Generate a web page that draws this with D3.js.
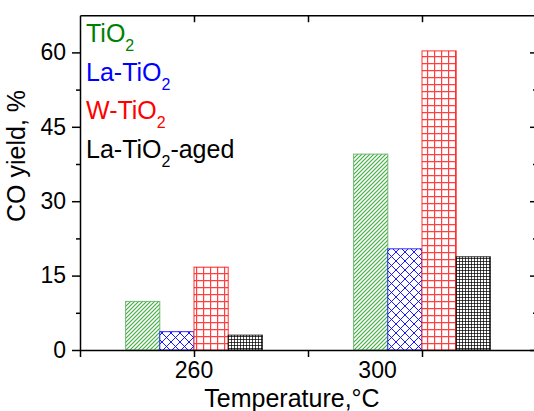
<!DOCTYPE html>
<html>
<head>
<meta charset="utf-8">
<script src="https://cdn.jsdelivr.net/npm/d3@7"></script>
<style>
  body { margin: 0; background: #fff; }
  svg { display: block; font-family: "Liberation Sans", Arial, sans-serif; }
  .axis path, .axis line { stroke: #000; stroke-width: 1.5; }
  .axis text { font-size: 23px; fill: #000; font-family: "Liberation Sans", Arial, sans-serif; }
</style>
</head>
<body>
<script>
var width = 534, height = 411;

// data
var temperatures = ["260", "300"];
var groupPos = [1, 3];                 // group centres on the x scale
var series = ["TiO2", "La-TiO2", "W-TiO2", "La-TiO2-aged"];
var tio2 = [9.8, 39.5];
var laTio2 = [3.7, 20.4];
var wTio2 = [16.7, 60.3];
var laTio2Aged = [3.0, 18.8];
var xTickLabels = ["260", "300"];
var xTickLabelPos = [1, 2.61];
var yTicks = [0, 15, 30, 45, 60];
var yMinorTicks = [7.5, 22.5, 37.5, 52.5];

var colors = ["#008000", "#0000ff", "#ff0000", "#000000"];
var values = [tio2, laTio2, wTio2, laTio2Aged];

var svg = d3.select("body").append("svg")
    .attr("width", width)
    .attr("height", height);

var x = d3.scaleLinear().domain([0, 4]).range([80, 536]);
var y = d3.scaleLinear().domain([0, 67.5]).range([350, 15.2]);
var barW = 0.3;

// patterns
var defs = svg.append("defs");
function pattern(id, size, d, color, sw, op) {
    var p = defs.append("pattern")
        .attr("id", id)
        .attr("patternUnits", "userSpaceOnUse")
        .attr("width", size)
        .attr("height", size);
    p.append("rect").attr("width", size).attr("height", size).attr("fill", "#fff");
    p.append("path").attr("d", d)
        .attr("stroke", color)
        .attr("stroke-width", sw)
        .attr("stroke-opacity", op)
        .attr("fill", "none");
}
pattern("pat0", 4, "M-1,1 L1,-1 M0,4 L4,0 M3,5 L5,3", "#22a022", 1.2, 0.85);
pattern("pat1", 9, "M0,0 L9,9 M9,0 L0,9", "#0000ff", 1, 0.9);
pattern("pat2", 7, "M0,0.5 H7 M0.5,0 V7", "#ff0000", 1.4, 0.75);
pattern("pat3", 3, "M0,0.5 H3 M0.5,0 V3", "#000000", 0.9, 0.8);

// bars
var bars = [];
values.forEach(function(vals, si) {
    vals.forEach(function(v, gi) {
        bars.push({s: si, g: gi, v: v});
    });
});

svg.selectAll(".bar")
    .data(bars)
    .enter()
    .append("rect")
    .attr("class", "bar")
    .attr("x", function(d) { return x(groupPos[d.g] + (d.s - 2) * barW); })
    .attr("y", function(d) { return y(d.v); })
    .attr("width", function(d) { return x(barW) - x(0); })
    .attr("height", function(d) { return y(0) - y(d.v); })
    .attr("fill", function(d) { return "url(#pat" + d.s + ")"; })
    .attr("stroke", function(d) { return d.s === 0 ? "#5aaa5a" : colors[d.s]; })
    .attr("stroke-opacity", 0.8)
    .attr("stroke-width", 1);

// axes
svg.append("g")
    .attr("class", "axis")
    .attr("transform", "translate(0," + y(0) + ")")
    .call(d3.axisBottom(x).tickValues([0, 1, 2, 3, 4]).tickSize(7).tickSizeOuter(0).tickFormat(""));

svg.append("g")
    .attr("class", "axis")
    .attr("transform", "translate(0," + y(0) + ")")
    .selectAll("text")
    .data(xTickLabels)
    .enter()
    .append("text")
    .attr("x", function(d, i) { return x(xTickLabelPos[i]); })
    .attr("y", 28)
    .attr("text-anchor", "middle")
    .text(function(d) { return d; });

svg.append("g")
    .attr("class", "axis")
    .attr("transform", "translate(0," + y(67.5) + ")")
    .call(d3.axisTop(x).tickValues([1, 2, 3]).tickSize(-7).tickSizeOuter(0).tickFormat(""));

svg.append("g")
    .attr("class", "axis")
    .attr("transform", "translate(" + x(0) + ",0)")
    .call(d3.axisLeft(y).tickValues(yTicks).tickSize(8).tickPadding(6).tickSizeOuter(0));

svg.append("g")
    .attr("class", "axis")
    .attr("transform", "translate(" + x(0) + ",0)")
    .call(d3.axisLeft(y).tickValues(yMinorTicks).tickSize(4).tickSizeOuter(0).tickFormat(""))
    .select(".domain").remove();

svg.append("g")
    .attr("class", "axis")
    .attr("transform", "translate(" + x(4) + ",0)")
    .call(d3.axisRight(y).tickValues(yTicks).tickSize(-6).tickSizeOuter(0).tickFormat(""));

svg.append("g")
    .attr("class", "axis")
    .attr("transform", "translate(" + x(4) + ",0)")
    .call(d3.axisRight(y).tickValues(yMinorTicks).tickSize(-3).tickSizeOuter(0).tickFormat(""))
    .select(".domain").remove();

// axis titles
svg.append("text")
    .attr("x", 292)
    .attr("y", 407)
    .attr("text-anchor", "middle")
    .style("font-size", "25px")
    .text("Temperature,\u00b0C");

svg.append("text")
    .attr("transform", "translate(25,156) rotate(-90)")
    .attr("text-anchor", "middle")
    .style("font-size", "25px")
    .text("CO yield, %");

// legend
var legend = svg.selectAll(".legend")
    .data(series)
    .enter()
    .append("text")
    .attr("class", "legend")
    .attr("x", 86)
    .attr("y", function(d, i) { return 42 + i * 38.5; })
    .style("font-size", "25px")
    .attr("fill", function(d, i) { return colors[i]; });

legend.each(function(d) {
    var t = d3.select(this);
    var parts = d.split("O2");
    t.append("tspan").text(parts[0] + "O");
    t.append("tspan").attr("dy", 9).style("font-size", "16px").text("2");
    if (parts[1]) t.append("tspan").attr("dy", -9).text(parts[1]);
});
</script>
</body>
</html>
